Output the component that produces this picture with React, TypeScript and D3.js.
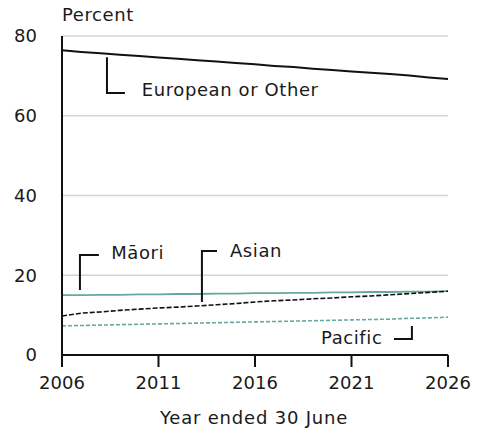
import React from 'react';
import * as d3 from 'd3';

const years = [2006, 2007, 2008, 2009, 2010, 2011, 2012, 2013, 2014, 2015, 2016, 2017, 2018, 2019, 2020, 2021, 2022, 2023, 2024, 2025, 2026];
const european = [76.4, 76.0, 75.7, 75.3, 75.0, 74.6, 74.3, 73.9, 73.6, 73.2, 72.9, 72.5, 72.2, 71.8, 71.5, 71.1, 70.8, 70.5, 70.1, 69.6, 69.2];
const maori = [15.0, 15.0, 15.1, 15.1, 15.2, 15.2, 15.3, 15.3, 15.4, 15.4, 15.5, 15.5, 15.6, 15.6, 15.7, 15.7, 15.8, 15.8, 15.9, 15.9, 16.0];
const asian = [9.8, 10.5, 10.8, 11.2, 11.5, 11.8, 12.0, 12.3, 12.6, 12.9, 13.3, 13.6, 13.8, 14.1, 14.3, 14.6, 14.8, 15.1, 15.4, 15.7, 16.0];
const pacific = [7.3, 7.4, 7.5, 7.6, 7.7, 7.8, 7.9, 8.0, 8.1, 8.2, 8.3, 8.4, 8.5, 8.6, 8.7, 8.8, 8.9, 9.0, 9.2, 9.3, 9.5];

const yTicks = [0, 20, 40, 60, 80];
const xTicks = [2006, 2011, 2016, 2021, 2026];

const teal = '#66a7a1';
const font = 'DejaVu Sans, Verdana, sans-serif';
const ink = '#1a1a1a';

// leader lines: [year, value] points, then label position
const labels = [
  { text: 'European or Other', pts: [[2008.33, 74.7], [2008.33, 65.7], [2009.26, 65.7]], at: [2010.13, 66.6] },
  { text: 'Māori', pts: [[2006.93, 16.3], [2006.93, 25.1], [2007.91, 25.1]], at: [2008.55, 25.6] },
  { text: 'Asian', pts: [[2013.25, 13.3], [2013.25, 26.1], [2014.03, 26.1]], at: [2014.7, 26.1] },
  { text: 'Pacific', pts: [[2023.2, 4.0], [2024.13, 4.0], [2024.13, 7.3]], at: [2019.42, 4.5] },
];

const App: React.FC = () => {
  const width = 478;
  const height = 431;
  const x = d3.scaleLinear().domain([2006, 2026]).range([62, 448]);
  const y = d3.scaleLinear().domain([0, 80]).range([355, 36]);

  const line = d3.line<number>()
    .x((_, i) => x(years[i]))
    .y(d => y(d));

  const series = [
    { values: european, color: '#111', dash: undefined, w: 2 },
    { values: maori, color: teal, dash: undefined, w: 1.8 },
    { values: pacific, color: teal, dash: '4,2', w: 1.6 },
    { values: asian, color: '#111', dash: '5,2', w: 1.6 },
  ];

  const leader = d3.line<number[]>().x(d => x(d[0])).y(d => y(d[1]));

  return (
    <svg width={width} height={height} style={{ position: 'absolute', left: 0, top: 0, background: '#fff' }}
      fontFamily={font}>
      {/* gridlines */}
      {yTicks.filter(t => t > 0).map(t => (
        <line key={t} x1={x(2006)} x2={x(2026)} y1={y(t)} y2={y(t)} stroke="#d4d4d4" strokeWidth={1.5} />
      ))}
      {/* y tick labels */}
      {yTicks.map(t => (
        <text key={t} x={37} y={y(t)} dy="0.36em" textAnchor="end" fontSize={18} fill={ink}>{t}</text>
      ))}
      <text x={62} y={15} dy="0.36em" fontSize={18} letterSpacing={0.6} fill={ink}>Percent</text>

      {series.map((s, i) => (
        <path key={i} d={line(s.values) || ''} fill="none" stroke={s.color} strokeWidth={s.w}
          strokeDasharray={s.dash} />
      ))}

      {/* axes */}
      <line x1={x(2006)} x2={x(2006)} y1={y(80)} y2={367} stroke="#111" strokeWidth={2} />
      <line x1={x(2006)} x2={x(2026)} y1={y(0)} y2={y(0)} stroke="#111" strokeWidth={2} />
      {xTicks.map(t => (
        <g key={t}>
          <line x1={x(t)} x2={x(t)} y1={y(0)} y2={367} stroke="#111" strokeWidth={2} />
          <text x={x(t)} y={383} dy="0.36em" textAnchor="middle" fontSize={18} fill={ink}>{t}</text>
        </g>
      ))}
      <text x={254} y={418} dy="0.36em" textAnchor="middle" fontSize={18} letterSpacing={0.8} fill={ink}>Year ended 30 June</text>

      {/* annotations */}
      {labels.map(l => (
        <g key={l.text}>
          <path d={leader(l.pts) || ''} fill="none" stroke="#111" strokeWidth={2} />
          <text x={x(l.at[0])} y={y(l.at[1])} dy="0.36em" fontSize={18} letterSpacing={0.6} fill={ink}>{l.text}</text>
        </g>
      ))}
    </svg>
  );
};

export default App;
